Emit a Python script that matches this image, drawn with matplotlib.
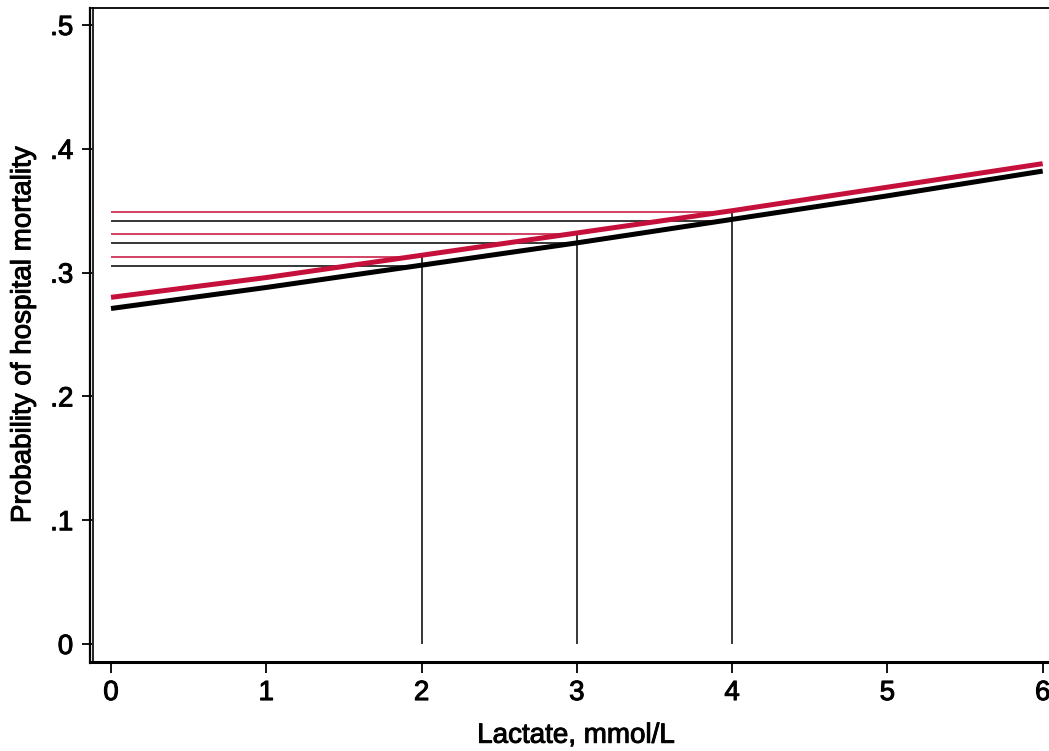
import matplotlib
matplotlib.use("Agg")
import matplotlib.pyplot as plt
from matplotlib.lines import Line2D
import matplotlib.patheffects as pe

plt.rcParams['font.family'] = ['Liberation Sans', 'DejaVu Sans']

# Data
lactate = [0, 1, 2, 3, 4, 5, 6]
prob_black = [0.271, 0.288, 0.306, 0.324, 0.343, 0.362, 0.382]
prob_red = [0.280, 0.296, 0.314, 0.332, 0.350, 0.369, 0.388]
ref_x = [2, 3, 4]
ref_black = [0.305, 0.324, 0.342]
ref_red = [0.313, 0.331, 0.349]
xticks = [0, 1, 2, 3, 4, 5, 6]
xticklabels = ['0', '1', '2', '3', '4', '5', '6']
yticks = [0, 0.1, 0.2, 0.3, 0.4, 0.5]
yticklabels = ['0', '.1', '.2', '.3', '.4', '.5']

RED = '#c5103b'
W, H = 1049, 751
fig = plt.figure(figsize=(W / 100, H / 100), dpi=100)
ax = fig.add_axes([92 / W, (H - 662) / H, (W - 92) / W + 0.01, (662 - 8) / H])

x0 = 111.0
sx = 155.2
y0 = 644.0
sy = 1238.0
ax.set_xlim((92 - x0) / sx, (W + 10 - x0) / sx)
ax.set_ylim(-(662 - y0) / sy, (y0 - 8) / sy)

# reference lines
for xv, yb, yr in zip(ref_x, ref_black, ref_red):
    ax.plot([0, xv], [yb, yb], color='black', lw=1.1, solid_capstyle='butt', zorder=2)
    ax.plot([0, xv], [yr, yr], color=RED, lw=1.1, solid_capstyle='butt', zorder=2)
    ax.plot([xv, xv], [0, yr], color='black', lw=1.1, solid_capstyle='butt', zorder=2)

ax.plot(lactate, prob_black, color='black', lw=3.6, solid_capstyle='butt', zorder=3)
ax.plot(lactate, prob_red, color=RED, lw=3.6, solid_capstyle='butt', zorder=4)

ax.set_xticks(xticks)
ax.set_xticklabels(xticklabels)
ax.set_yticks(yticks)
ax.set_yticklabels(yticklabels)
ax.tick_params(axis='x', length=8, width=1.3, labelsize=20, pad=5, color='black')
ax.tick_params(axis='y', length=7.5, width=1.3, labelsize=20, pad=6, color='black')

for s in ['top', 'left']:
    ax.spines[s].set_linewidth(1.3)
ax.spines['bottom'].set_linewidth(2.2)
ax.spines['right'].set_visible(False)
ax.spines['left'].set_visible(False)

# outer y-axis line and inner frame line
fig.add_artist(Line2D([90 / W, 90 / W], [(H - 663) / H, (H - 8) / H], color='black', lw=1.6))
fig.add_artist(Line2D([92.5 / W, 92.5 / W], [(H - 662) / H, (H - 7.5) / H], color='black', lw=1.2))

ax.set_xlabel('Lactate, mmol/L', fontsize=20, labelpad=12)
ax.set_ylabel('Probability of hospital mortality', fontsize=20, labelpad=10)

heavy = [pe.withStroke(linewidth=0.7, foreground='black')]
for t in ax.get_xticklabels() + ax.get_yticklabels() + [ax.xaxis.label, ax.yaxis.label]:
    t.set_path_effects(heavy)

fig.savefig('out.png', dpi=100)
